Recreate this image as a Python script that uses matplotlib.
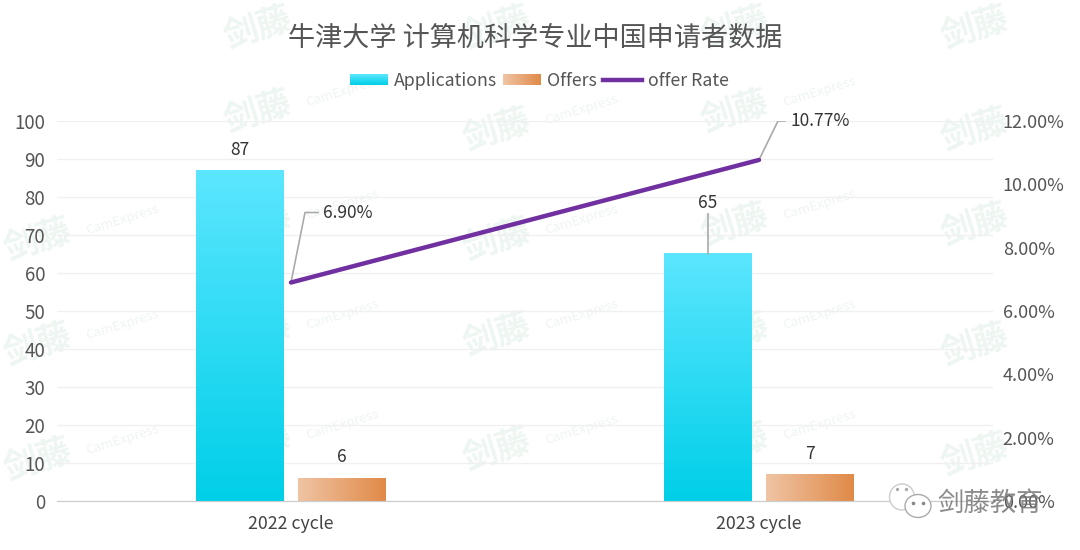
import numpy as np
import matplotlib
matplotlib.use('Agg')
import matplotlib.pyplot as plt
from matplotlib.colors import LinearSegmentedColormap
from matplotlib.patches import Ellipse

plt.rcParams['font.family'] = ['Noto Sans CJK SC', 'DejaVu Sans']

cycles = ['2022 cycle', '2023 cycle']
applications = [87, 65]
offers = [6, 7]
offer_rate = [6.90, 10.77]
left_ticks = [0, 10, 20, 30, 40, 50, 60, 70, 80, 90, 100]
right_ticks = [0, 2, 4, 6, 8, 10, 12]
title = '牛津大学 计算机科学专业中国申请者数据'

W, H = 1080, 550
fig = plt.figure(figsize=(W / 100, H / 100), dpi=100, facecolor='white')

# axes box taken from the pixels of the picture
ax = fig.add_axes([57 / W, 1 - 501 / H, 936 / W, 380 / H])
ax2 = ax.twinx()
ax.set_xlim(-0.5, 1.5)
ax.set_ylim(0, 100)
ax2.set_ylim(0, 12)
ax.set_facecolor('none')
ax2.set_facecolor('none')

blue = LinearSegmentedColormap.from_list('b', ['#00cfe8', '#5ce6ff'])
orange = LinearSegmentedColormap.from_list('o', ['#f0c4a4', '#e08a48'])

# watermark, very pale, sits under everything
wm_pos = [(258, 28), (497, 28), (735, 28), (975, 28),
          (258, 112), (497, 130), (735, 112), (975, 130),
          (38, 240), (258, 225), (497, 240), (735, 225), (975, 225),
          (38, 345), (258, 335), (497, 335), (735, 335), (975, 345),
          (38, 460), (258, 445), (497, 450), (735, 445), (975, 455)]
for wx, wy in wm_pos:
    fig.text(wx / W, 1 - wy / H, '剑藤', fontsize=25, color='#eef6f2', rotation=17,
             ha='center', va='center', zorder=-2, fontweight='bold')
    if wx + 85 < 1030 and wy > 30:
        fig.text((wx + 85) / W, 1 - (wy - 20) / H, 'CamExpress', fontsize=9.5, color='#eef5f2',
                 rotation=17, ha='center', va='center', zorder=-2)

ax.set_yticks(left_ticks)
ax.set_xticks([0, 1])
ax.set_xticklabels(cycles)
ax.grid(axis='y', color='#f0f0f0', lw=1)
ax.set_axisbelow(True)
ax.tick_params(axis='y', length=0, labelsize=13.5, labelcolor='#555555', pad=8.5)
ax.tick_params(axis='x', length=0, labelsize=12.8, labelcolor='#444444', pad=10)
ax2.set_yticks(right_ticks)
ax2.set_yticklabels(['%.2f%%' % t for t in right_ticks])
ax2.tick_params(axis='y', length=0, labelsize=13, labelcolor='#555555', pad=7)
for a in (ax, ax2):
    for s in a.spines.values():
        s.set_visible(False)
    a.spines['bottom'].set_visible(True)
    a.spines['bottom'].set_color('#cccccc')


def grad_bar(x, h, cmap, vertical):
    # bar first so the scale does the work, gradient laid on top of it
    b = ax.bar(x, h, width=0.186, color='none', zorder=3)[0]
    g = np.linspace(0, 1, 256)
    g = g.reshape(-1, 1) if vertical else g.reshape(1, -1)
    ax.imshow(g, cmap=cmap, vmin=0, vmax=1, origin='lower', aspect='auto', zorder=3,
              extent=[b.get_x(), b.get_x() + b.get_width(), 0, h])


for i in range(len(cycles)):
    grad_bar(i - 0.11, applications[i], blue, True)
    grad_bar(i + 0.108, offers[i], orange, False)
ax.set_xlim(-0.5, 1.5)
ax.set_ylim(0, 100)

ax2.plot([0, 1], offer_rate, color='#7030a0', lw=3.2, zorder=5, solid_capstyle='round')

# data labels, offsets in points (1px = 0.72pt)
pt = 0.72
label_kw = dict(textcoords='offset points', ha='center', va='center', fontsize=12.5,
                color='#333333')
ax.annotate(str(applications[0]), (0 - 0.11, applications[0]), xytext=(0, 20 * pt), **label_kw)
ax.annotate(str(offers[0]), (0 + 0.108, offers[0]), xytext=(0, 21 * pt), **label_kw)
ax.annotate(str(offers[1]), (1 + 0.108, offers[1]), xytext=(0, 20 * pt), **label_kw)
ax.plot([1 - 0.11] * 2, [applications[1], applications[1] + 10.5], color='#aaaaaa', lw=1.2,
        zorder=4)
ax.annotate(str(applications[1]), (1 - 0.11, applications[1]), xytext=(0, 51 * pt), **label_kw)

for i, (dx, dy, tail) in enumerate([(14, 70, 13), (19, 39, 7)]):
    xy = ax2.transData.transform((i, offer_rate[i]))
    p1 = ax2.transData.inverted().transform((xy[0] + dx, xy[1] + dy))
    p2 = ax2.transData.inverted().transform((xy[0] + dx + tail, xy[1] + dy))
    ax2.plot([i, p1[0], p2[0]], [offer_rate[i], p1[1], p2[1]], color='#aaaaaa', lw=1.2,
             zorder=4)
    ax2.annotate('%.2f%%' % offer_rate[i], (p2[0], p2[1]), xytext=(5 * pt, 0),
                 textcoords='offset points', ha='left', va='center', fontsize=12.5,
                 color='#333333')
ax2.set_xlim(-0.5, 1.5)
ax2.set_ylim(0, 12)

fig.text(535 / W, 1 - 38 / H, title, fontsize=19.5, color='#555555', ha='center', va='center')

# legend placed by hand because of the gradient keys
fig.add_axes([350 / W, 1 - 85 / H, 38 / W, 11 / H]).imshow(
    np.linspace(1, 0, 64).reshape(-1, 1), cmap=blue, aspect='auto')
fig.add_axes([503 / W, 1 - 85 / H, 38 / W, 11 / H]).imshow(
    np.linspace(0, 1, 64).reshape(1, -1), cmap=orange, aspect='auto')
for a in fig.axes[-2:]:
    a.axis('off')
fig.add_artist(plt.Line2D([603 / W, 642 / W], [1 - 80 / H] * 2, color='#7030a0', lw=3.2))
for lx, name in [(394, 'Applications'), (547, 'Offers'), (648, 'offer Rate')]:
    fig.text(lx / W, 1 - 81 / H, name, fontsize=12.8, color='#555555', ha='left', va='center')

# wechat stamp in the corner, sits on top of the last tick label
stamp = fig.add_axes([0, 0, 1, 1], facecolor='none')
stamp.set_xlim(0, W)
stamp.set_ylim(H, 0)
stamp.axis('off')
stamp.add_patch(Ellipse((902, 497), 25, 26, fc='white', ec='#cccccc', lw=1))
stamp.add_patch(Ellipse((918, 506), 26, 23, fc='white', ec='#aaaaaa', lw=1))
stamp.plot([913, 923], [503, 503], ls='none', marker='o', ms=1.6, color='#888888')
stamp.plot([897, 906], [489, 489], ls='none', marker='o', ms=1.4, color='#aaaaaa')
stamp.text(990, 503, '剑藤教育', fontsize=19, color='#777777', alpha=0.85, ha='center',
           va='center')

fig.savefig('out.png', dpi=100)
